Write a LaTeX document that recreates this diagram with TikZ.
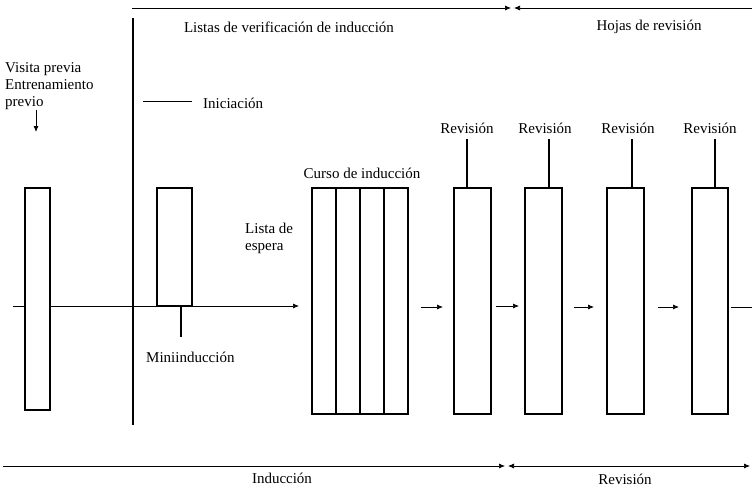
\documentclass[tikz,border=0pt]{standalone}
\usepackage{fontspec}
\setmainfont{Liberation Serif}
\usetikzlibrary{arrows.meta}
\begin{document}
\begin{tikzpicture}[x=1pt,y=-1pt,
  box/.style={draw,line width=1.2pt,inner sep=0pt,minimum width=#1},
  lbl/.style={font=\fontsize{15}{17}\selectfont,inner sep=0pt},
  thinline/.style={line width=0.7pt},
  tip/.style={-{Latex[length=6pt,width=5pt]}},
  tick/.style={line width=1.2pt}]
\useasboundingbox (0,0) rectangle (752,490);
% rectangles
\node[box=25,minimum height=222] (r0) at (37.5,299) {};
\node[box=35,minimum height=118] (mini) at (174.5,247) {};
\node[box=24,minimum height=226] (c1) at (324,301) {};
\node[box=24,minimum height=226] (c2) at (348,301) {};
\node[box=24,minimum height=226] (c3) at (372,301) {};
\node[box=24,minimum height=226] (c4) at (396,301) {};
\node[box=37,minimum height=226] (v1) at (472.5,301) {};
\node[box=37,minimum height=226] (v2) at (543.5,301) {};
\node[box=37,minimum height=226] (v3) at (625.5,301) {};
\node[box=36,minimum height=226] (v4) at (710,301) {};
% big vertical divider
\coordinate (dtop) at (133,18);
\coordinate (dbot) at (133,425);
\draw[line width=1.6pt] (dtop) -- (dbot);
% top bracket
\coordinate (t0) at (132,8);
\coordinate (tm1) at (511,8);
\coordinate (tm2) at (514,8);
\coordinate (t1) at (752,8);
\draw[thinline,tip] (t0) -- (tm1);
\draw[thinline,tip] (t1) -- (tm2);
\node[lbl] (listas) at (289,27) {Listas de verificación de inducción};
\node[lbl] (hojas) at (649,27) {Hojas de revisión};
% left label
\node[lbl,anchor=north west,align=left] (visita) at (5,62) {Visita previa\\Entrenamiento\\previo};
\coordinate (va) at (36,110);
\coordinate (vb) at (36,132);
\draw[line width=0.9pt,tip] (va) -- (vb);
% iniciacion
\coordinate (i0) at (143,101);
\coordinate (i1) at (192,101);
\draw[line width=0.9pt] (i0) -- (i1);
\node[lbl,anchor=west] (inic) at (203,103) {Iniciación};
% main horizontal line
\coordinate (h0) at (13,306);
\coordinate (h1) at (299,306);
\draw[thinline] (h0) -- (h0 -| r0.west);
\draw[thinline,tip] (h0 -| r0.east) -- (h1);
% miniinduccion tick
\coordinate (mt) at (181,337);
\draw[tick] (mini.south -| mt) -- (mt);
\node[lbl,anchor=west] (minil) at (146,357) {Miniinducción};
% lista de espera
\node[lbl,anchor=north west,align=left] (espera) at (245,223) {Lista de\\espera};
\node[lbl] (curso) at (362,173) {Curso de inducción};
% small arrows
\coordinate (a1) at (421,307); \coordinate (b1) at (443,307);
\coordinate (a2) at (496,306); \coordinate (b2) at (519,306);
\coordinate (a3) at (574,307); \coordinate (b3) at (594,307);
\coordinate (a4) at (658,307); \coordinate (b4) at (679,307);
\coordinate (a5) at (731,307); \coordinate (b5) at (752,307);
\draw[thinline,tip] (a1) -- (b1);
\draw[thinline,tip] (a2) -- (b2);
\draw[thinline,tip] (a3) -- (b3);
\draw[thinline,tip] (a4) -- (b4);
\draw[thinline] (a5) -- (b5);
% revision labels and ticks
\node[lbl] (rl1) at (467,128) {Revisión};
\node[lbl] (rl2) at (545,128) {Revisión};
\node[lbl] (rl3) at (628,128) {Revisión};
\node[lbl] (rl4) at (710,128) {Revisión};
\draw[tick] (467,139) -- (v1.north -| 467,0);
\draw[tick] (549,139) -- (v2.north -| 549,0);
\draw[tick] (632,139) -- (v3.north -| 632,0);
\draw[tick] (715,139) -- (v4.north -| 715,0);
% bottom bracket
\coordinate (u0) at (3,466);
\coordinate (um1) at (505,466);
\coordinate (um2) at (508,466);
\coordinate (u1) at (750,466);
\draw[thinline,tip] (u0) -- (um1);
\draw[thinline,{Latex[length=6pt,width=5pt]}-{Latex[length=6pt,width=5pt]}] (um2) -- (u1);
\node[lbl] (induc) at (282,478) {Inducción};
\node[lbl] (revis) at (625,479) {Revisión};
\end{tikzpicture}
\end{document}
